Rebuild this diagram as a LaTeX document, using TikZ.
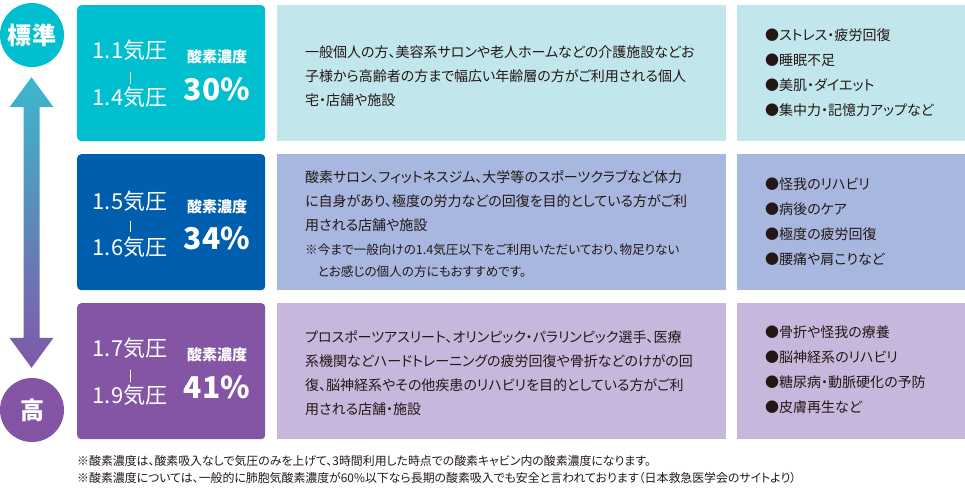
\documentclass[tikz,border=0pt]{standalone}
\usepackage{fontspec}
\setmainfont{Noto Sans CJK JP}[RawFeature=+palt]
\usetikzlibrary{calc}
\definecolor{cTeal}{RGB}{0,191,207}
\definecolor{cBlue}{RGB}{0,94,174}
\definecolor{cPurple}{RGB}{132,85,164}
\definecolor{lTeal}{RGB}{193,230,235}
\definecolor{lBlue}{RGB}{168,183,224}
\definecolor{lPurple}{RGB}{200,183,220}
\definecolor{ink}{RGB}{35,24,21}
\definecolor{arrTop}{RGB}{60,184,205}
\definecolor{arrBot}{RGB}{128,88,168}
\tikzset{
  lbox/.style={rounded corners=4pt, minimum width=188pt, minimum height=136pt, inner sep=0pt, anchor=north west},
  mbox/.style={minimum width=449pt, minimum height=136pt, inner sep=0pt, anchor=north west},
  rbox/.style={minimum width=228pt, minimum height=136pt, inner sep=0pt, anchor=north west},
  press/.style={text=white, font=\fontsize{22}{22}\selectfont, inner sep=0pt},
  conclabel/.style={text=white, font=\fontsize{15}{15}\selectfont\bfseries, inner sep=0pt},
  concval/.style={text=white, font=\fontsize{30}{30}\selectfont\bfseries, inner sep=0pt},
  sepbar/.style={draw=white, line width=0.8pt},
  mtext/.style={text=ink, font=\fontsize{14}{24}\selectfont, align=left, anchor=west, inner sep=0pt},
  notetext/.style={text=ink, font=\fontsize{12.6}{22}\selectfont, align=left, anchor=west, inner sep=0pt},
  rtext/.style={text=ink, font=\fontsize{14}{25}\selectfont, align=left, anchor=west, inner sep=0pt},
  foot/.style={text=ink, font=\fontsize{11.9}{11.9}\selectfont, anchor=west, inner sep=0pt},
  levelcircle/.style={circle, minimum size=64pt, inner sep=0pt, text=white, font=\fontsize{24}{24}\selectfont\bfseries},
}
\begin{document}
\begin{tikzpicture}[x=1pt,y=-1pt]
\useasboundingbox (0,0) rectangle (965,498);

% level circles and gradient arrow
\node[levelcircle, fill=cTeal] (c1) at (32,35) {標準};
\node[levelcircle, fill=cPurple] (c2) at (32,410) {高};
\shade[top color=arrTop, bottom color=arrBot]
  ($(c1.south)+(-0.5,10)$) -- ($(c1.south)+(21.5,40)$) -- ($(c1.south)+(7.5,40)$)
  -- ($(c2.north)+(7.5,-40)$) -- ($(c2.north)+(21.5,-40)$) -- ($(c2.north)+(-0.5,-10)$)
  -- ($(c2.north)+(-22.5,-40)$) -- ($(c2.north)+(-8.5,-40)$)
  -- ($(c1.south)+(-8.5,40)$) -- ($(c1.south)+(-22.5,40)$) -- cycle;

% row 1
\node[lbox, fill=cTeal] (L1) at (77,5) {};
\node[mbox, fill=lTeal] (M1) at (277,5) {};
\node[rbox, fill=lTeal] (R1) at (737,5) {};
\node[press] (p1a) at (130,50) {1.1気圧};
\node[press] (p1b) at (130,97) {1.4気圧};
\draw[sepbar] ($(p1a)!0.47!(p1b)$) -- ($(p1a)!0.72!(p1b)$);
\node[conclabel] (k1) at (217,57) {酸素濃度};
\node[concval] (v1) at (217,89) {30\%};
\node[mtext] (m1) at (305,76) {一般個人の方、美容系サロンや老人ホームなどの介護施設などお\\子様から高齢者の方まで幅広い年齢層の方がご利用される個人\\宅・店舗や施設};
\node[rtext] (r1) at (765,73) {●ストレス・疲労回復\\●睡眠不足\\●美肌・ダイエット\\●集中力・記憶力アップなど};

% row 2
\node[lbox, fill=cBlue] (L2) at (77,154) {};
\node[mbox, fill=lBlue] (M2) at (277,154) {};
\node[rbox, fill=lBlue] (R2) at (737,154) {};
\node[press] (p2a) at (130,201) {1.5気圧};
\node[press] (p2b) at (130,247) {1.6気圧};
\draw[sepbar] ($(p2a)!0.43!(p2b)$) -- ($(p2a)!0.68!(p2b)$);
\node[conclabel] (k2) at (217,207) {酸素濃度};
\node[concval] (v2) at (217,238) {34\%};
\node[mtext] (m2) at (305,201) {酸素サロン、フィットネスジム、大学等のスポーツクラブなど体力\\に自身があり、極度の労力などの回復を目的としている方がご利\\用される店舗や施設};
\node[notetext] (n2) at (305,261) {※今まで一般向けの1.4気圧以下をご利用いただいており、物足りない\\\hspace*{12.6pt}とお感じの個人の方にもおすすめです。};
\node[rtext] (r2) at (765,222) {●怪我のリハビリ\\●病後のケア\\●極度の疲労回復\\●腰痛や肩こりなど};

% row 3
\node[lbox, fill=cPurple] (L3) at (77,303) {};
\node[mbox, fill=lPurple] (M3) at (277,303) {};
\node[rbox, fill=lPurple] (R3) at (737,303) {};
\node[press] (p3a) at (130,348) {1.7気圧};
\node[press] (p3b) at (130,395) {1.9気圧};
\draw[sepbar] ($(p3a)!0.47!(p3b)$) -- ($(p3a)!0.72!(p3b)$);
\node[conclabel] (k3) at (217,355) {酸素濃度};
\node[concval] (v3) at (217,387) {41\%};
\node[mtext] (m3) at (305,373) {プロスポーツアスリート、オリンピック・パラリンピック選手、医療\\系機関などハードトレーニングの疲労回復や骨折などのけがの回\\復、脳神経系やその他疾患のリハビリを目的としている方がご利\\用される店舗・施設};
\node[rtext] (r3) at (765,370) {●骨折や怪我の療養\\●脳神経系のリハビリ\\●糖尿病・動脈硬化の予防\\●皮膚再生など};

% footnotes
\node[foot] (f1) at (77,461) {※酸素濃度は、酸素吸入なしで気圧のみを上げて、3時間利用した時点での酸素キャビン内の酸素濃度になります。};
\node[foot] (f2) at (77,478) {※酸素濃度については、一般的に肺胞気酸素濃度が60\%以下なら長期の酸素吸入でも安全と言われております（日本救急医学会のサイトより）};
\end{tikzpicture}
\end{document}
